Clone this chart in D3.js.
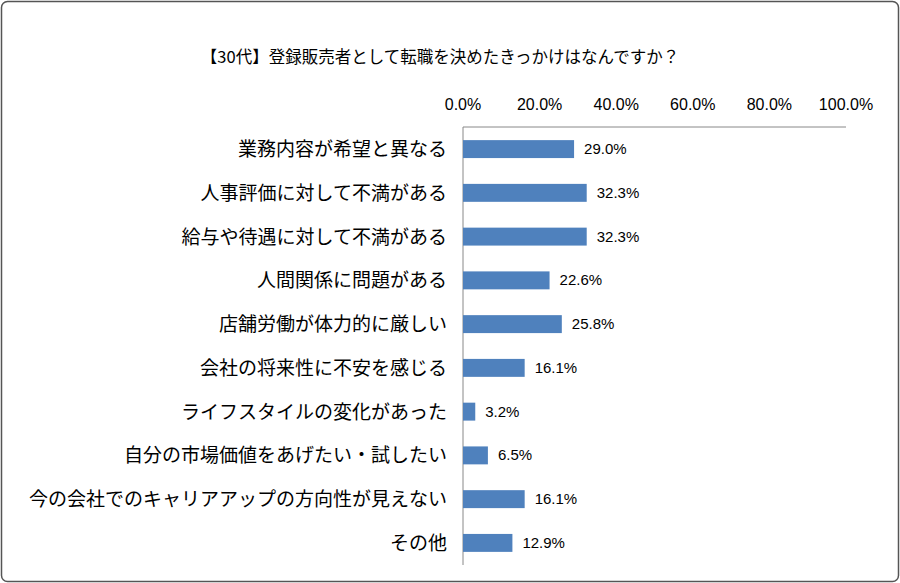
<!DOCTYPE html>
<html><head><meta charset="utf-8">
<script src="https://cdn.jsdelivr.net/npm/d3@7.9.0/dist/d3.min.js"></script>
<style>body{margin:0;background:#fff}svg{font-family:"Noto Sans CJK JP",sans-serif}</style>
</head><body><svg id="c" width="900" height="583"></svg>
<script>
const title = '【30代】登録販売者として転職を決めたきっかけはなんですか？';
const categories = ['業務内容が希望と異なる','人事評価に対して不満がある','給与や待遇に対して不満がある','人間関係に問題がある','店舗労働が体力的に厳しい','会社の将来性に不安を感じる','ライフスタイルの変化があった','自分の市場価値をあげたい・試したい','今の会社でのキャリアアップの方向性が見えない','その他'];
const values = [29.0,32.3,32.3,22.6,25.8,16.1,3.2,6.5,16.1,12.9];
const ticks = [0,20,40,60,80,100];

const svg = d3.select('#c');
svg.append('rect').attr('x',1.5).attr('y',1.5).attr('width',897).attr('height',580)
  .attr('rx',6).attr('fill','#fff').attr('stroke','#555').attr('stroke-width',1.5);
svg.append('text').attr('x',440).attr('y',63).attr('text-anchor','middle')
  .attr('font-size',16.5).text(title);

const x = d3.scaleLinear().domain([0,100]).range([463,846]);
const y = d3.scaleBand().domain(categories).range([127,565]).paddingInner(0.59).paddingOuter(0.3);

svg.append('line').attr('x1',x(0)).attr('x2',x(100)).attr('y1',127).attr('y2',127).attr('stroke','#888');
svg.append('line').attr('x1',x(0)).attr('x2',x(0)).attr('y1',127).attr('y2',565).attr('stroke','#888');
svg.selectAll('.tk').data(ticks).join('text').attr('x',d=>x(d)).attr('y',110)
  .attr('text-anchor','middle').attr('font-size',16).attr('font-family','Liberation Sans Narrow, Liberation Sans, sans-serif')
  .text(d=>d.toFixed(1)+'%');

svg.selectAll('.bar').data(values).join('rect')
  .attr('x',x(0)).attr('y',(d,i)=>y(categories[i])).attr('width',d=>x(d)-x(0))
  .attr('height',y.bandwidth()).attr('fill','#4f81bd');
svg.selectAll('.vl').data(values).join('text')
  .attr('x',d=>x(d)+10).attr('y',(d,i)=>y(categories[i])+y.bandwidth()/2+5)
  .attr('font-size',15).attr('font-family','Liberation Sans Narrow, Liberation Sans, sans-serif')
  .text(d=>d.toFixed(1)+'%');
svg.selectAll('.cl').data(categories).join('text')
  .attr('x',447).attr('y',d=>y(d)+y.bandwidth()/2+7).attr('text-anchor','end')
  .attr('font-size',19).text(d=>d);
</script></body></html>
